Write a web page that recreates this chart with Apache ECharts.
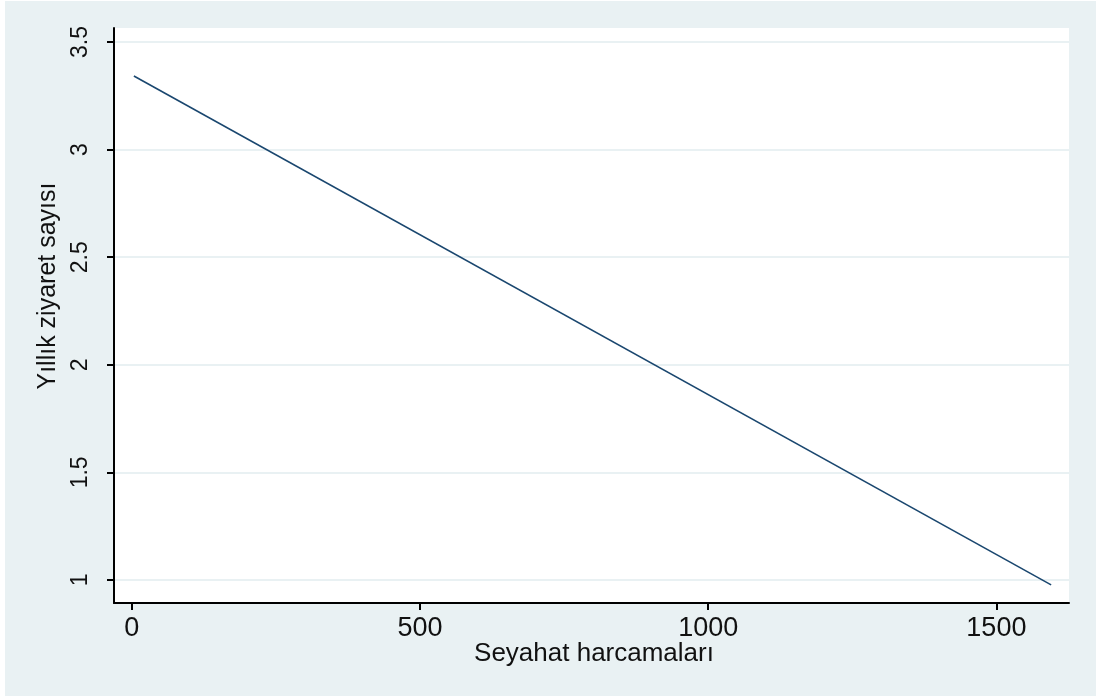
<!DOCTYPE html>
<html>
<head>
<meta charset="utf-8">
<script src="https://cdn.jsdelivr.net/npm/echarts@6/dist/echarts.min.js"></script>
<style>html,body{margin:0;padding:0;background:#fff;}#c{width:1096px;height:696px;}</style>
</head>
<body>
<div id="c"></div>
<script>
// Data
const spending = [3.5, 1595];          // Seyahat harcamaları
const visits = [3.342, 0.977];         // Yıllık ziyaret sayısı
const xTicks = [0, 500, 1000, 1500];
const yTicks = [1, 1.5, 2, 2.5, 3, 3.5];
const xTitle = 'Seyahat harcamaları';
const yTitle = 'Yıllık ziyaret sayısı';

const chart = echarts.init(document.getElementById('c'));
const font = 'Liberation Sans, Arial, sans-serif';
chart.setOption({
  backgroundColor: '#fff',
  animation: false,
  graphic: [
    { type: 'rect', shape: { x: 5, y: 1, width: 1091, height: 695 }, style: { fill: '#E9F1F3' }, z: -10, silent: true },
    { type: 'text', x: 594, y: 654, style: { text: xTitle, font: '26px ' + font, fill: '#111', align: 'center', verticalAlign: 'middle' }, z: 10 },
    { type: 'text', x: 48, y: 286, rotation: Math.PI / 2, style: { text: yTitle, font: '25px ' + font, fill: '#111', align: 'center', verticalAlign: 'middle' }, z: 10 }
  ],
  grid: { left: 114, top: 28, right: 27, bottom: 93, show: true, backgroundColor: '#fff', borderWidth: 0 },
  xAxis: {
    type: 'value', min: -31, max: 1626,
    axisLine: { show: true, onZero: false, lineStyle: { color: '#000', width: 2 } },
    axisTick: { show: true, length: 7, lineStyle: { color: '#000', width: 2 }, customValues: xTicks },
    axisLabel: { customValues: xTicks, formatter: v => String(v), fontSize: 27, fontFamily: font, color: '#111', margin: 12 },
    splitLine: { show: false }
  },
  yAxis: {
    type: 'value', min: 0.893, max: 3.565,
    axisLine: { show: true, onZero: false, lineStyle: { color: '#000', width: 2 } },
    axisTick: { show: true, length: 7, lineStyle: { color: '#000', width: 2 }, customValues: yTicks },
    axisLabel: { customValues: yTicks, formatter: v => String(v), fontSize: 23, fontFamily: font, color: '#111', rotate: 90, margin: 22 },
    splitLine: { show: true, lineStyle: { color: '#E9F1F3', width: 2 } }
  },
  series: [{
    type: 'line',
    data: spending.map((x, i) => [x, visits[i]]),
    showSymbol: false,
    lineStyle: { color: '#1A476F', width: 1.6 }
  }]
});
</script>
</body>
</html>
